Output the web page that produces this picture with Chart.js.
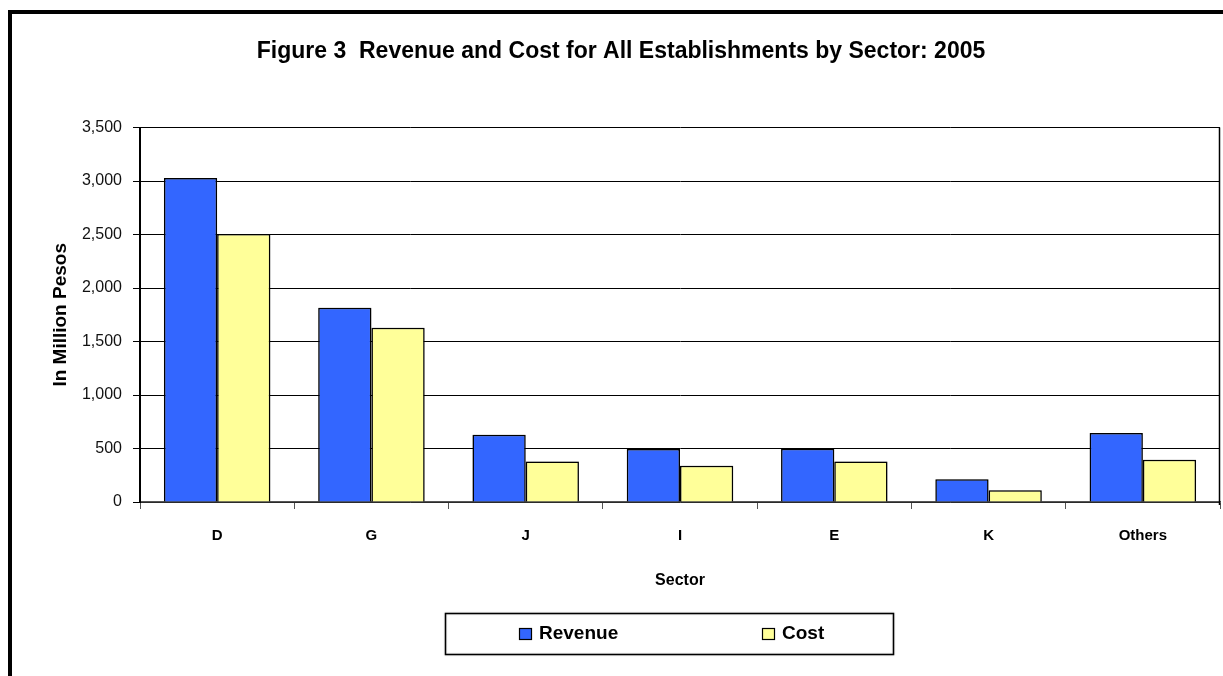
<!DOCTYPE html>
<html lang="en">
<head>
    <meta charset="UTF-8">
    <title>Figure 3 Revenue and Cost by Sector</title>
    <script src="https://cdn.jsdelivr.net/npm/chart.js"></script>
    <style>
        html, body {
            margin: 0;
            padding: 0;
            background-color: white;
            overflow: hidden;
        }
    </style>
</head>
<body>
    <canvas id="chart" width="1223" height="676"></canvas>
    <script>
        // data (million pesos)
        var sectors = ['D', 'G', 'J', 'I', 'E', 'K', 'Others'];
        var revenue = [3030, 1815, 628, 495, 497, 213, 644];
        var cost = [2505, 1630, 378, 340, 378, 110, 394];
        var yMax = 3500;
        var yStep = 500;

        var FONT = '"Liberation Sans Narrow", "Arial Narrow", "Liberation Sans", Arial, sans-serif';
        Chart.defaults.font.family = FONT;
        Chart.defaults.color = '#000';

        // thick outer frame of the figure (open at the bottom/right, like the cropped original)
        var framePlugin = {
            id: 'frame',
            beforeDraw: function (chart) {
                var ctx = chart.ctx;
                ctx.save();
                ctx.fillStyle = 'white';
                ctx.fillRect(0, 0, chart.width, chart.height);
                ctx.fillStyle = '#000';
                ctx.fillRect(8, 10, 4, chart.height);
                ctx.fillRect(8, 10, chart.width, 4);
                ctx.restore();
            }
        };

        // plot area right edge + soft shadow under the bars
        var plotPlugin = {
            id: 'plotBox',
            beforeDatasetsDraw: function (chart) {
                var ctx = chart.ctx, a = chart.chartArea;
                ctx.save();
                ctx.strokeStyle = '#000';
                ctx.lineWidth = 1.5;
                ctx.beginPath();
                ctx.moveTo(a.right - 0.5, a.top);
                ctx.lineTo(a.right - 0.5, a.bottom + 3);
                ctx.stroke();
                ctx.restore();
                ctx.save();
                ctx.shadowColor = 'rgba(0,0,0,0.35)';
                ctx.shadowBlur = 2;
            },
            afterDatasetsDraw: function (chart) {
                chart.ctx.restore();
            }
        };

        // boxed legend under the axis title
        var legendBox = {
            id: 'legendBox',
            afterDraw: function (chart) {
                var ctx = chart.ctx;
                var box = { x: 445, y: 613, w: 448, h: 41 };
                var starts = [519, 762];
                ctx.save();
                ctx.shadowColor = 'rgba(0,0,0,0.3)';
                ctx.shadowBlur = 1.5;
                ctx.strokeStyle = '#000';
                ctx.lineWidth = 1.5;
                ctx.strokeRect(box.x + 0.5, box.y + 0.5, box.w, box.h);
                ctx.restore();
                ctx.save();
                ctx.font = 'bold 19px ' + FONT;
                ctx.textBaseline = 'middle';
                chart.data.datasets.forEach(function (ds, i) {
                    var x = starts[i], cy = box.y + box.h / 2 + 0.5;
                    ctx.fillStyle = ds.backgroundColor;
                    ctx.fillRect(x, cy - 6, 13, 12);
                    ctx.strokeStyle = '#000';
                    ctx.lineWidth = 1.2;
                    ctx.strokeRect(x + 0.5, cy - 5.5, 12, 11);
                    ctx.fillStyle = '#000';
                    ctx.fillText(ds.label, x + 20, cy);
                });
                ctx.restore();
            }
        };

        new Chart(document.getElementById('chart').getContext('2d'), {
            type: 'bar',
            data: {
                labels: sectors,
                datasets: [{
                    label: 'Revenue',
                    data: revenue,
                    backgroundColor: '#3366FF',
                    borderColor: '#000',
                    borderWidth: 1.5,
                    categoryPercentage: 0.69,
                    barPercentage: 1.0
                }, {
                    label: 'Cost',
                    data: cost,
                    backgroundColor: '#FFFF99',
                    borderColor: '#000',
                    borderWidth: 1.5,
                    categoryPercentage: 0.69,
                    barPercentage: 1.0
                }]
            },
            options: {
                responsive: false,
                animation: false,
                layout: {
                    padding: { left: 22, right: 3, top: 0, bottom: 0 }
                },
                plugins: {
                    legend: { display: false },
                    tooltip: { enabled: false },
                    title: {
                        display: true,
                        text: 'Figure 3  Revenue and Cost for All Establishments by Sector: 2005',
                        color: '#000',
                        font: { size: 23, weight: 'bold' },
                        padding: { top: 38, bottom: 62 }
                    }
                },
                scales: {
                    x: {
                        offset: true,
                        grid: {
                            offset: true,
                            drawOnChartArea: false,
                            drawTicks: true,
                            tickLength: 7,
                            color: '#555'
                        },
                        border: { color: '#555', width: 1.5 },
                        ticks: {
                            color: '#000',
                            padding: 18,
                            font: { size: 15, weight: 'bold' }
                        },
                        title: {
                            display: true,
                            text: 'Sector',
                            color: '#000',
                            font: { size: 16, weight: 'bold' },
                            padding: { top: 0, bottom: 86 }
                        },
                        afterFit: function (s) { s.height = 174; }
                    },
                    y: {
                        min: 0,
                        max: yMax,
                        ticks: {
                            stepSize: yStep,
                            color: '#111',
                            padding: 11,
                            font: { size: 16 }
                        },
                        grid: {
                            color: '#000',
                            lineWidth: 1,
                            tickLength: 7
                        },
                        border: { color: '#000', width: 2 },
                        title: {
                            display: true,
                            text: 'In Million Pesos',
                            color: '#000',
                            font: { size: 19, weight: 'bold' },
                            padding: { top: 27, bottom: 0 }
                        },
                        afterFit: function (s) { s.width = 118; }
                    }
                }
            },
            plugins: [framePlugin, plotPlugin, legendBox]
        });
    </script>
</body>
</html>
